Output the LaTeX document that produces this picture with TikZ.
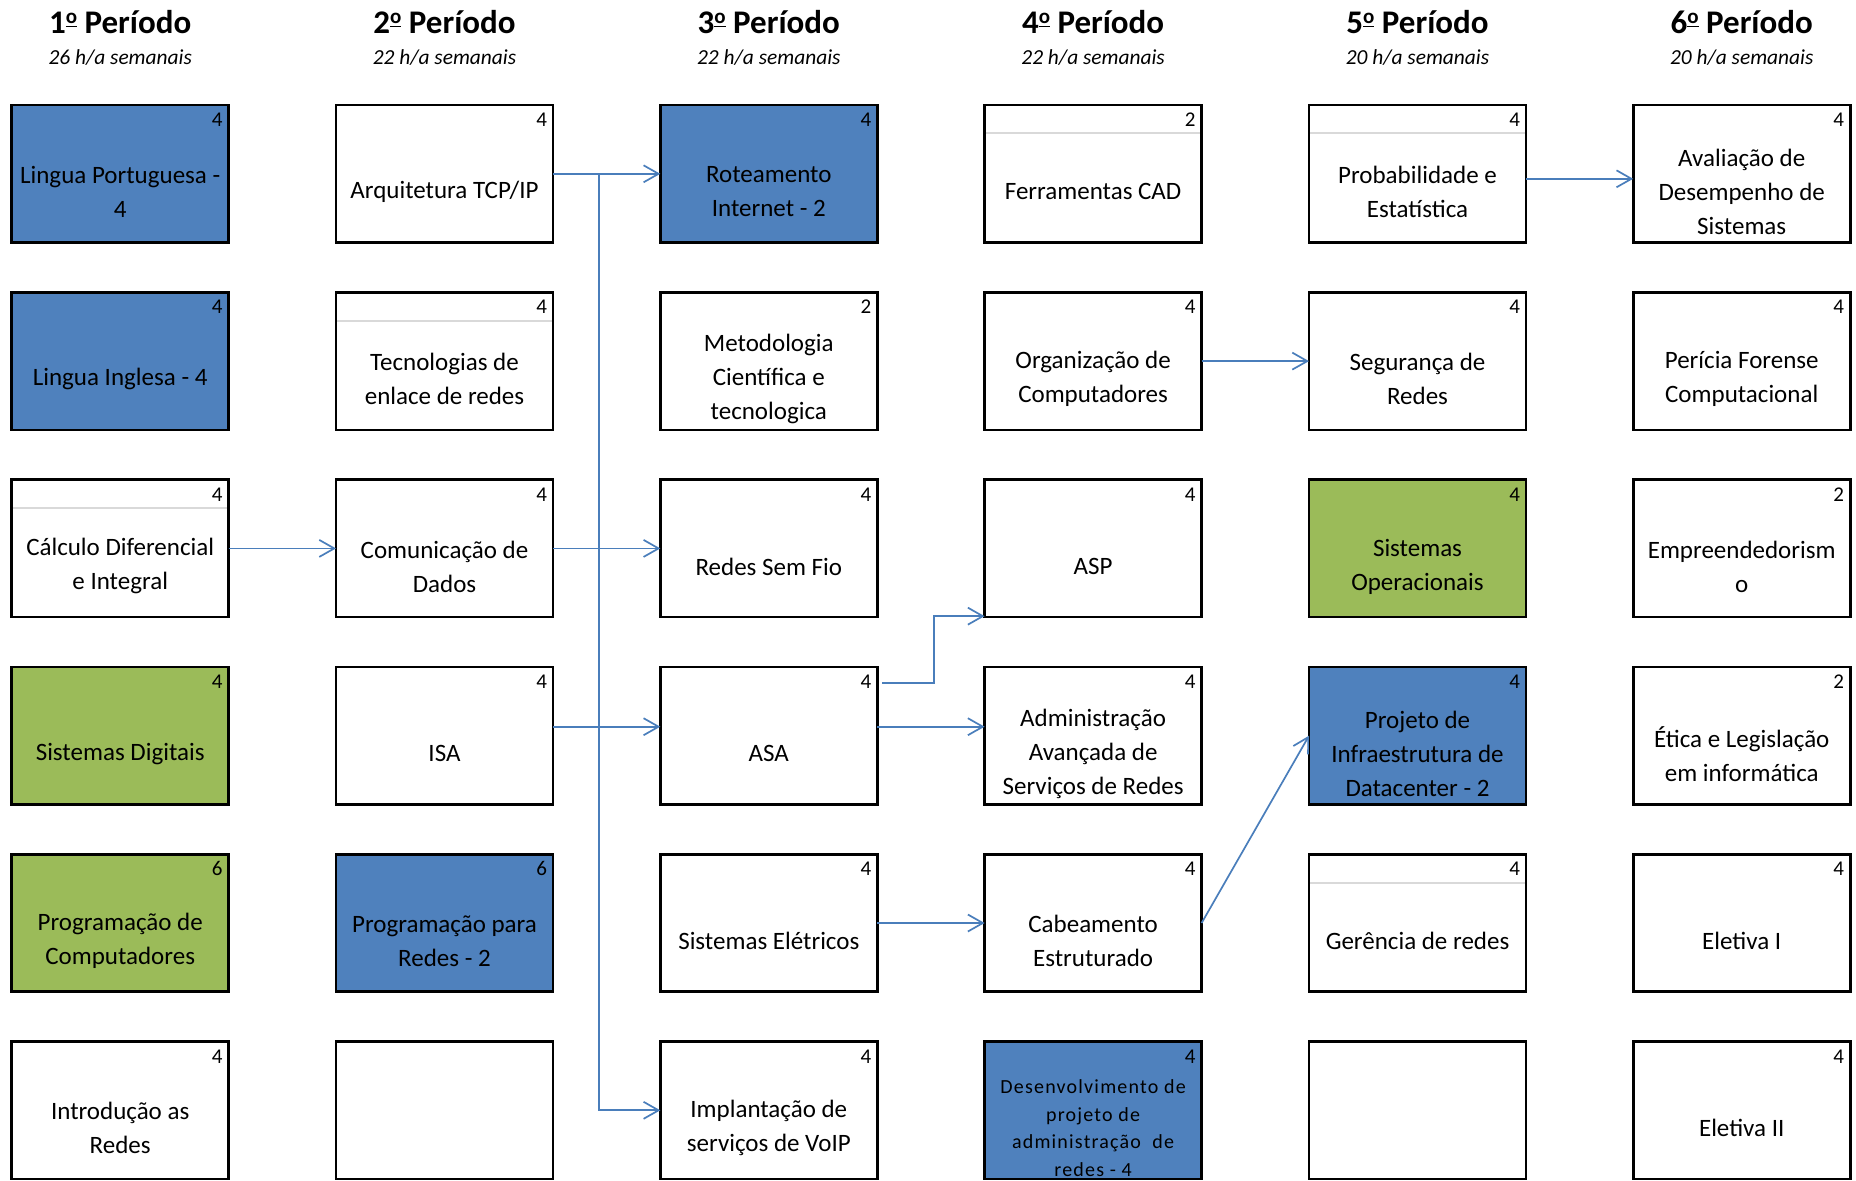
\documentclass[tikz,border=0pt]{standalone}
\usepackage{fontspec}
\setmainfont{Carlito}
\newfontfamily\spacedfont[LetterSpace=6]{Carlito}
\usetikzlibrary{arrows.meta,calc}
\definecolor{ofblue}{HTML}{4F81BD}
\definecolor{ofgreen}{HTML}{9BBB59}
\definecolor{conncol}{HTML}{4A7EBB}
\definecolor{sepgray}{HTML}{D9D9D9}
\newcommand\ordmark{\raisebox{0.62ex}{\fontsize{10.5}{10.5}\selectfont\bfseries\underline{o}}}
\tikzset{
  box/.style={draw=black, line width=1.3pt, rectangle, minimum width=108.5pt, minimum height=68.75pt, inner sep=0pt, outer sep=0pt, fill=white},
  bluebox/.style={fill=ofblue},
  greenbox/.style={fill=ofgreen},
  plainbox/.style={},
  numlabel/.style={anchor=base east, font=\fontsize{10.5}{12}\selectfont, inner sep=0pt},
  txt/.style={align=center, font=\fontsize{12.5}{17}\selectfont, inner sep=0pt},
  smalltxt/.style={align=center, font=\spacedfont\fontsize{10}{13.8}\selectfont, inner sep=0pt},
  conn/.style={draw=conncol, line width=0.85pt, -{Straight Barb[length=7.5pt,width=8.5pt]}},
  sepline/.style={draw=sepgray, line width=1pt},
  head/.style={font=\bfseries\fontsize{16.5}{20}\selectfont, anchor=base, inner sep=0pt},
  sub/.style={font=\itshape\fontsize{10.7}{13}\selectfont, anchor=base, inner sep=0pt},
}
\newcommand\disc[7]{%
  \node[box,#4] (#1) at (#2,#3) {};
  \node[numlabel] (#1-n) at ([xshift=-2.85pt,yshift=-10.8pt]#1.north east) {#5};
  \node[#7] (#1-t) at ([yshift=-9pt]#1.center) {#6};
}
\newcommand\sepl[1]{\draw[sepline] ([yshift=-14.15pt,xshift=0.65pt]#1.north west) -- ([yshift=-14.15pt,xshift=-0.65pt]#1.north east);}
\begin{document}
\begin{tikzpicture}[x=0.5pt,y=-0.5pt]
\useasboundingbox (0,0) rectangle (1856,1180);
% headers
\foreach \i/\cx/\h in {1/120.2/26,2/444.5/22,3/768.8/22,4/1093.1/22,5/1417.5/20,6/1741.7/20}{
  \node[head] (h\i) at (\cx,33) {\i\ordmark\ Período};
  \node[sub] (s\i) at (\cx,64.5) {\h\ h/a semanais};
}
% column 1
\disc{lp}{120.2}{173.8}{bluebox}{4}{Lingua Portuguesa -\\4}{txt}
\disc{li}{120.2}{361.1}{bluebox}{4}{Lingua Inglesa - 4}{txt}
\disc{calc}{120.2}{548.4}{plainbox}{4}{Cálculo Diferencial\\e Integral}{txt}
\disc{sd}{120.2}{735.7}{greenbox}{4}{Sistemas Digitais}{txt}
\disc{pc}{120.2}{923.0}{greenbox}{6}{Programação de\\Computadores}{txt}
\disc{ir}{120.2}{1110.3}{plainbox}{4}{Introdução as\\Redes}{txt}
% column 2
\disc{arq}{444.5}{173.8}{plainbox}{4}{Arquitetura TCP/IP}{txt}
\disc{tec}{444.5}{361.1}{plainbox}{4}{Tecnologias de\\enlace de redes}{txt}
\disc{com}{444.5}{548.4}{plainbox}{4}{Comunicação de\\Dados}{txt}
\disc{isa}{444.5}{735.7}{plainbox}{4}{ISA}{txt}
\disc{ppr}{444.5}{923.0}{bluebox}{6}{Programação para\\Redes - 2}{txt}
\disc{emp2}{444.5}{1110.3}{plainbox}{}{}{txt}
% column 3
\disc{rot}{768.8}{173.8}{bluebox}{4}{Roteamento\\Internet - 2}{txt}
\disc{met}{768.8}{361.1}{plainbox}{2}{Metodologia\\Científica e\\tecnologica}{txt}
\disc{rsf}{768.8}{548.4}{plainbox}{4}{Redes Sem Fio}{txt}
\disc{asa}{768.8}{735.7}{plainbox}{4}{ASA}{txt}
\disc{sel}{768.8}{923.0}{plainbox}{4}{Sistemas Elétricos}{txt}
\disc{voip}{768.8}{1110.3}{plainbox}{4}{Implantação de\\serviços de VoIP}{txt}
% column 4
\disc{cad}{1093.1}{173.8}{plainbox}{2}{Ferramentas CAD}{txt}
\disc{org}{1093.1}{361.1}{plainbox}{4}{Organização de\\Computadores}{txt}
\disc{asp}{1093.1}{548.4}{plainbox}{4}{ASP}{txt}
\disc{adm}{1093.1}{735.7}{plainbox}{4}{Administração\\Avançada de\\Serviços de Redes}{txt}
\disc{cab}{1093.1}{923.0}{plainbox}{4}{Cabeamento\\Estruturado}{txt}
\disc{dev}{1093.1}{1110.3}{bluebox}{4}{Desenvolvimento de\\projeto de\\administração\ \ de\\redes - 4}{smalltxt}
% column 5
\disc{prob}{1417.5}{173.8}{plainbox}{4}{Probabilidade e\\Estatística}{txt}
\disc{seg}{1417.5}{361.1}{plainbox}{4}{Segurança de\\Redes}{txt}
\disc{so}{1417.5}{548.4}{greenbox}{4}{Sistemas\\Operacionais}{txt}
\disc{pid}{1417.5}{735.7}{bluebox}{4}{Projeto de\\Infraestrutura de\\Datacenter - 2}{txt}
\disc{ger}{1417.5}{923.0}{plainbox}{4}{Gerência de redes}{txt}
\disc{emp5}{1417.5}{1110.3}{plainbox}{}{}{txt}
% column 6
\disc{aval}{1741.7}{173.8}{plainbox}{4}{Avaliação de\\Desempenho de\\Sistemas}{txt}
\disc{per}{1741.7}{361.1}{plainbox}{4}{Perícia Forense\\Computacional}{txt}
\disc{empr}{1741.7}{548.4}{plainbox}{2}{Empreendedorism\\o}{txt}
\disc{etica}{1741.7}{735.7}{plainbox}{2}{Ética e Legislação\\em informática}{txt}
\disc{el1}{1741.7}{923.0}{plainbox}{4}{Eletiva I}{txt}
\disc{el2}{1741.7}{1110.3}{plainbox}{4}{Eletiva II}{txt}
% separator lines
\sepl{calc}
\sepl{tec}
\sepl{cad}
\sepl{prob}
\sepl{ger}
% connectors
\coordinate (j1) at (599,173.8);
\draw[conn] (arq.east) -- (rot.west);
\draw[conn] (j1) |- (voip.west);
\draw[conn] (calc.east) -- (com.west);
\draw[conn] (com.east) -- (rsf.west);
\draw[conn] ([yshift=4.5pt]isa.east) -- ([yshift=4.5pt]asa.west);
\draw[conn] ([xshift=2.4pt,yshift=-8pt]asa.north east) -- ++(26pt,0) |- ([yshift=0.5pt]asp.south west);
\draw[conn] ([yshift=4.5pt]asa.east) -- ([yshift=4.5pt]adm.west);
\draw[conn] (org.east) -- (seg.west);
\draw[conn] ([yshift=-2.5pt]prob.east) -- ([yshift=-2.5pt]aval.west);
\draw[conn] (sel.east) -- (cab.west);
\draw[conn] (cab.east) -- (pid.west);
\end{tikzpicture}
\end{document}
